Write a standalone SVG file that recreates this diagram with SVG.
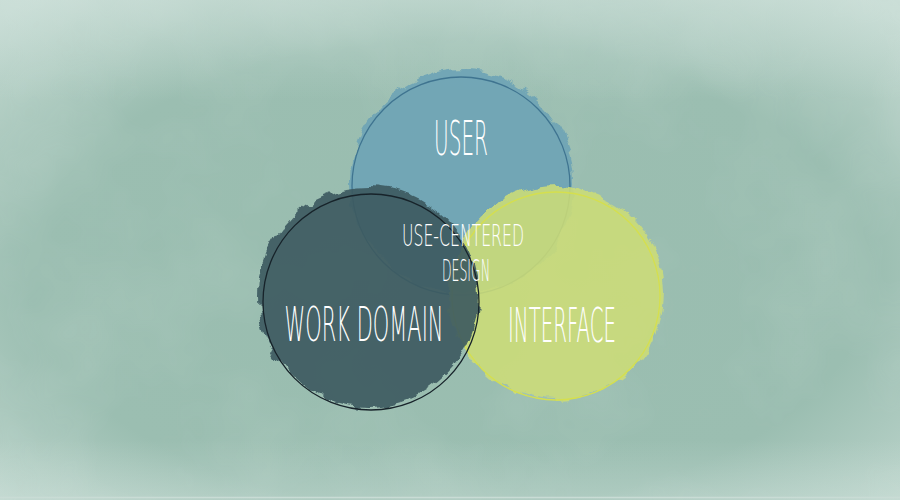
<svg xmlns="http://www.w3.org/2000/svg" width="900" height="500" viewBox="0 0 900 500">
  <defs>
    <radialGradient id="bg" cx="0.5" cy="0.55" r="0.72">
      <stop offset="0" stop-color="#99bdaf"/>
      <stop offset="0.65" stop-color="#9bbeb1"/>
      <stop offset="1" stop-color="#c3d9d1"/>
    </radialGradient>
    <linearGradient id="topfade" x1="0" y1="0" x2="0" y2="1">
      <stop offset="0" stop-color="#d3e4de" stop-opacity="0.45"/>
      <stop offset="0.2" stop-color="#d3e4de" stop-opacity="0"/>
      <stop offset="0.88" stop-color="#d3e4de" stop-opacity="0"/>
      <stop offset="1" stop-color="#d3e4de" stop-opacity="0.35"/>
    </linearGradient>
    <filter id="clouds" x="0" y="0" width="100%" height="100%">
      <feTurbulence type="fractalNoise" baseFrequency="0.008" numOctaves="4" seed="3"/>
      <feColorMatrix type="matrix" values="0 0 0 0 1  0 0 0 0 1  0 0 0 0 1  0 0 0 0.45 -0.18"/>
    </filter>
    <filter id="rough" x="-20%" y="-20%" width="140%" height="140%">
      <feTurbulence type="fractalNoise" baseFrequency="0.05" numOctaves="3" seed="7" result="n"/>
      <feDisplacementMap in="SourceGraphic" in2="n" scale="13" xChannelSelector="R" yChannelSelector="G"/>
    </filter>
    <style>
      .label { font-family: "DejaVu Sans", "Liberation Sans", sans-serif; font-weight: 200; fill: #ffffff; text-anchor: middle; }
      .ring { fill: none; stroke-width: 1.3; }
    </style>
  </defs>

  <rect width="900" height="500" fill="url(#bg)"/>
  <rect width="900" height="500" filter="url(#clouds)" opacity="0.4"/>
  <rect width="900" height="500" fill="url(#topfade)"/>
  <line x1="0" y1="497.5" x2="900" y2="497.5" stroke="#c9dcd5" stroke-width="1.5"/>

  <g id="user">
    <circle cx="462" cy="182" r="112" fill="#6fa5b6" filter="url(#rough)" opacity="0.95"/>
    <circle class="ring" cx="461" cy="186" r="109" stroke="#3f7490"/>
    <text class="label" transform="translate(461 155) scale(1 2)" font-size="24" textLength="54" lengthAdjust="spacingAndGlyphs">USER</text>
  </g>

  <g id="interface">
    <circle cx="557" cy="293" r="107" fill="#cddd78" filter="url(#rough)" opacity="0.88"/>
    <circle class="ring" cx="556" cy="296" r="104" stroke="#d5df4e"/>
    <text class="label" transform="translate(562 342) scale(1 2)" font-size="24" textLength="108" lengthAdjust="spacingAndGlyphs">INTERFACE</text>
  </g>

  <g id="work-domain">
    <circle cx="368" cy="297" r="110" fill="#3d5a61" filter="url(#rough)" opacity="0.91"/>
    <circle class="ring" cx="371" cy="302" r="108" stroke="#17232a"/>
    <text class="label" transform="translate(364 341) scale(1 2)" font-size="24" textLength="159" lengthAdjust="spacingAndGlyphs">WORK DOMAIN</text>
  </g>

  <g id="use-centered-design">
    <text class="label" transform="translate(463 246) scale(1 2)" font-size="15" textLength="122" lengthAdjust="spacingAndGlyphs">USE-CENTERED</text>
    <text class="label" transform="translate(466 281) scale(1 2)" font-size="15" textLength="48" lengthAdjust="spacingAndGlyphs">DESIGN</text>
  </g>

  <g id="connectors"/>
</svg>
